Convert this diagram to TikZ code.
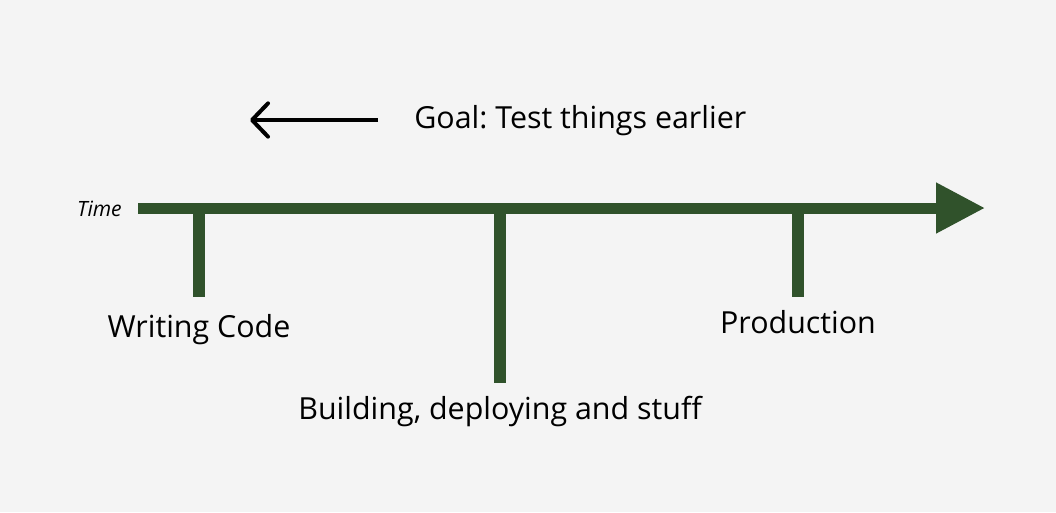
\documentclass[tikz,border=0pt]{standalone}
\usepackage{fontspec}
\setmainfont{Open Sans}
\usepackage{xcolor}
\usetikzlibrary{arrows.meta}
\frenchspacing
\definecolor{bgGray}{HTML}{F4F4F4}
\definecolor{timeGreen}{HTML}{30522B}
\tikzset{
  label/.style={font=\fontsize{22.8}{26}\selectfont, text=black, inner sep=0pt},
  tick/.style={timeGreen, line width=9pt},
}

\begin{document}
\begin{tikzpicture}[x=0.75pt, y=-0.75pt]
  \fill[bgGray] (0,0) rectangle (1056,512);
  \useasboundingbox (0,0) rectangle (1056,512);
  % time axis
  \coordinate (axisStart) at (138,208);
  \coordinate (axisEnd) at (985,208);
  \draw[timeGreen, line width=8.25pt, -{Triangle[length=36.75pt, width=36pt]}] (axisStart) -- (axisEnd);
  \node[font=\fontsize{15.8}{18}\selectfont\itshape, anchor=east, inner sep=0pt] (time) at (122,209) {Time};
  % ticks
  \coordinate (writeTop) at (199,208);
  \coordinate (buildTop) at (500,208);
  \coordinate (prodTop) at (798,208);
  \coordinate (writeBot) at (199,297);
  \coordinate (buildBot) at (500,383);
  \coordinate (prodBot) at (798,297);
  \draw[tick] (writeTop) -- (writeBot);
  \draw[tick] (buildTop) -- (buildBot);
  \draw[tick] (prodTop) -- (prodBot);
  % labels
  \node[label] (write) at (199,330) {Writing Code};
  \node[label] (build) at (500,412) {Building, deploying and stuff};
  \node[label] (prod) at (798,322) {Production};
  % goal
  \node[label, anchor=west] (goal) at (414,121) {Goal: Test things earlier};
  \coordinate (goalFrom) at (378,120);
  \coordinate (goalTo) at (250,120);
  \draw[black, line width=3pt, -{Straight Barb[length=12pt, width=25pt, round]}] (goalFrom) -- (goalTo);
\end{tikzpicture}
\end{document}
